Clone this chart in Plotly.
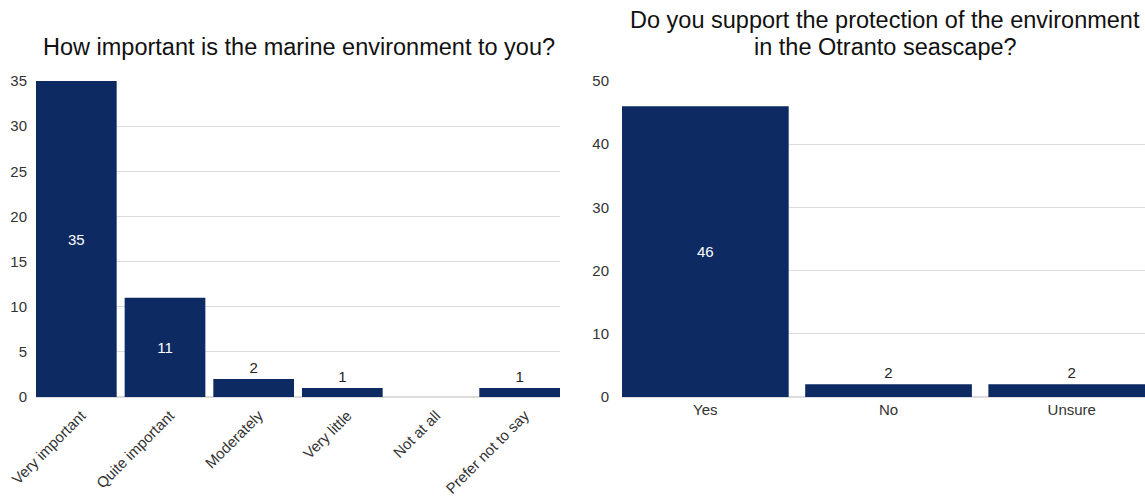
import plotly.graph_objects as go

# Survey responses
importance_labels = ["Very important", "Quite important", "Moderately",
                     "Very little", "Not at all", "Prefer not to say"]
importance_counts = [35, 11, 2, 1, 0, 1]

support_labels = ["Yes", "No", "Unsure"]
support_counts = [46, 2, 2]

W, H = 1145, 496
BAR = "#0d2a62"
GRID = "#dcdcdc"
FONT = "Liberation Sans, Arial, sans-serif"


def px_x(p):
    return p / W


def px_y(p):
    return (H - p) / H


def label_text(vals):
    return [str(v) if v else "" for v in vals]


def label_colors(vals, threshold):
    return ["white" if v >= threshold else "#222" for v in vals]


fig = go.Figure()

fig.add_trace(go.Bar(
    x=importance_labels, y=importance_counts,
    text=label_text(importance_counts),
    textposition=["inside" if v >= 5 else "outside" for v in importance_counts],
    insidetextanchor="middle",
    textfont=dict(size=15, family=FONT, color=label_colors(importance_counts, 5)),
    marker=dict(color=BAR, line=dict(width=0)),
    cliponaxis=False,
    xaxis="x", yaxis="y", showlegend=False, hoverinfo="x+y",
))

fig.add_trace(go.Bar(
    x=support_labels, y=support_counts,
    text=label_text(support_counts),
    textposition=["inside" if v >= 5 else "outside" for v in support_counts],
    insidetextanchor="middle",
    textfont=dict(size=15, family=FONT, color=label_colors(support_counts, 5)),
    marker=dict(color=BAR, line=dict(width=0)),
    cliponaxis=True,
    xaxis="x2", yaxis="y2", showlegend=False, hoverinfo="x+y",
))

y_dom = [px_y(397), px_y(81)]
tickfont = dict(size=15, family=FONT, color="#333")
title_font = dict(size=23.5, family=FONT, color="#111")

fig.update_layout(
    width=W, height=H,
    margin=dict(l=0, r=0, t=0, b=0),
    paper_bgcolor="white", plot_bgcolor="white",
    font=dict(family=FONT, color="#222"),
    bargap=0.09,
    uniformtext=dict(minsize=8, mode="show"),
    xaxis=dict(domain=[px_x(36), px_x(560)], anchor="y", automargin=False,
               tickangle=-45, tickfont=tickfont, showgrid=False,
               showline=False, ticks="", range=[-0.455, 5.455],
               ticklabelstandoff=6, ticklabelshift=5),
    yaxis=dict(domain=y_dom, anchor="x", range=[0, 35], dtick=5, automargin=False,
               gridcolor=GRID, zeroline=True, zerolinecolor=GRID,
               tickfont=tickfont, ticks="", ticklabelstandoff=8),
    xaxis2=dict(domain=[px_x(622), 1], anchor="y2", automargin=False,
                tickfont=tickfont, showgrid=False, showline=False,
                ticks="", range=[-0.455, 2.40], ticklabelstandoff=2),
    yaxis2=dict(domain=y_dom, anchor="x2", range=[0, 50], dtick=10, automargin=False,
                gridcolor=GRID, zeroline=True, zerolinecolor=GRID,
                tickfont=tickfont, ticks="", ticklabelstandoff=12),
    annotations=[
        dict(text="How important is the marine environment to you?",
             x=px_x(299), y=px_y(47), xref="paper", yref="paper",
             showarrow=False, font=title_font,
             xanchor="center", yanchor="middle"),
        dict(text="Do you support the protection of the environment",
             x=px_x(885), y=px_y(20), xref="paper", yref="paper",
             showarrow=False, font=title_font,
             xanchor="center", yanchor="middle"),
        dict(text="in the Otranto seascape?",
             x=px_x(885), y=px_y(47), xref="paper", yref="paper",
             showarrow=False, font=title_font,
             xanchor="center", yanchor="middle"),
    ],
)

fig.write_html("out.html")
